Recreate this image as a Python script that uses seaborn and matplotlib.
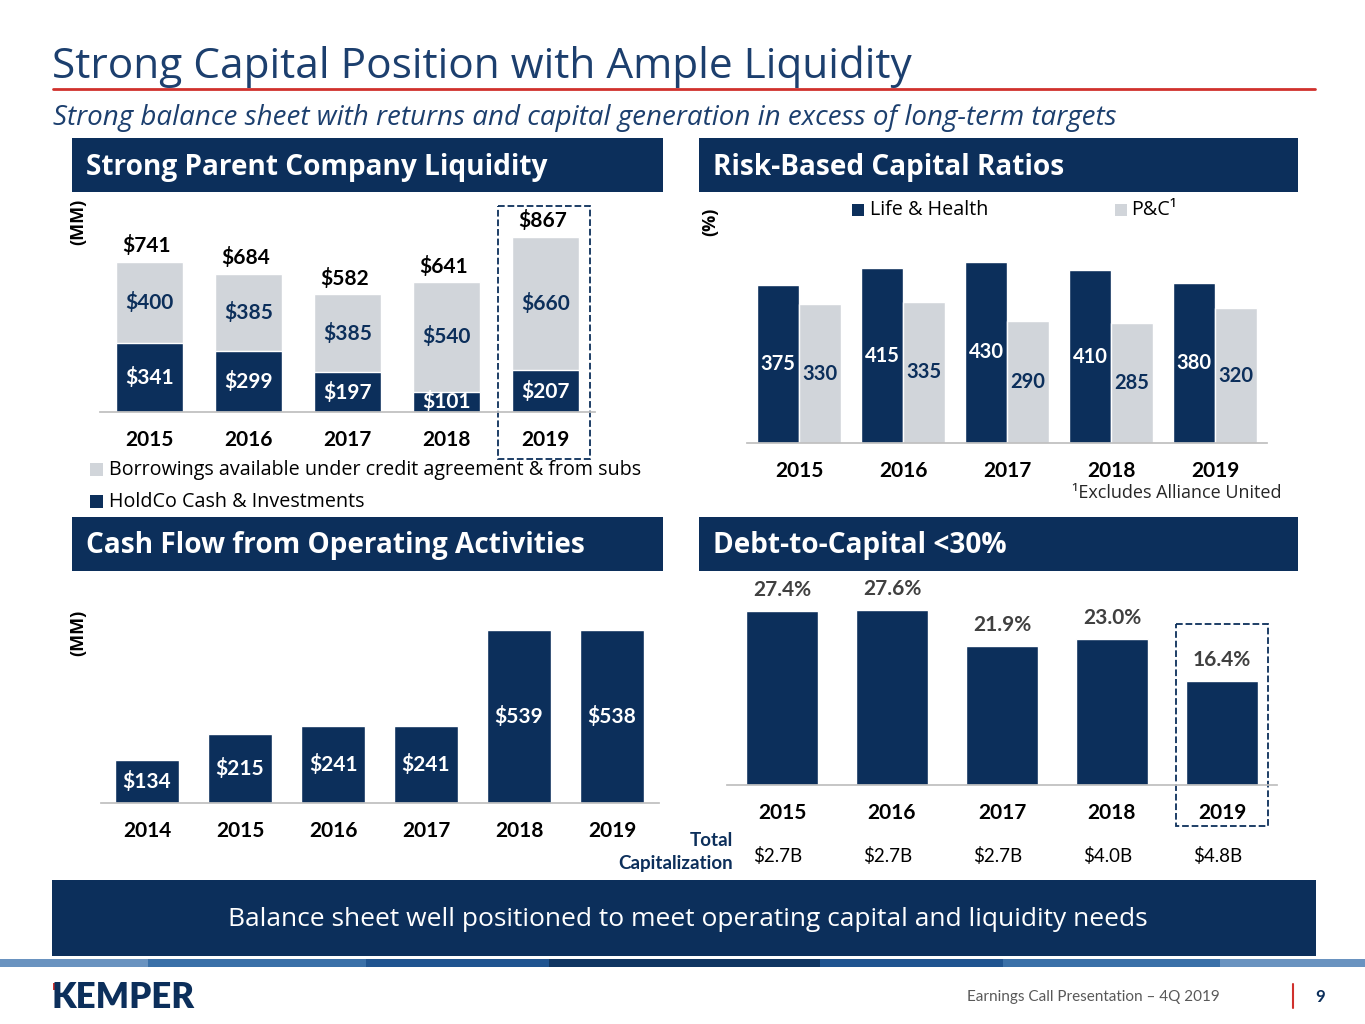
import matplotlib
import matplotlib.pyplot as plt
from matplotlib.patches import Rectangle
import numpy as np
import pandas as pd
import seaborn as sns

sns.set_theme(style="white")
plt.rcParams['font.family'] = ['Lato', 'DejaVu Sans']
OPEN = ['Open Sans', 'DejaVu Sans']

# ---- data ----
liq_years = ['2015', '2016', '2017', '2018', '2019']
holdco_cash = [341, 299, 197, 101, 207]
borrowings = [400, 385, 385, 540, 660]
liq_totals = [741, 684, 582, 641, 867]

rbc_years = ['2015', '2016', '2017', '2018', '2019']
rbc_life = [375, 415, 430, 410, 380]
rbc_pc = [330, 335, 290, 285, 320]

cf_years = ['2014', '2015', '2016', '2017', '2018', '2019']
cf_values = [134, 215, 241, 241, 539, 538]

dtc_years = ['2015', '2016', '2017', '2018', '2019']
dtc_values = [27.4, 27.6, 21.9, 23.0, 16.4]
total_cap = ['$2.7B', '$2.7B', '$2.7B', '$4.0B', '$4.8B']

NAVY = '#0c2f5b'
LIGHT = '#d1d5da'
TITLE = '#1c3f6e'
RED = '#d0312d'
W, H = 1365, 1024

fig = plt.figure(figsize=(13.65, 10.24), dpi=100)

# background / decoration axes in pixel coords
bg = fig.add_axes([0, 0, 1, 1])
bg.set_xlim(0, W)
bg.set_ylim(H, 0)
bg.axis('off')

bg.text(52, 67, 'Strong Capital Position with Ample Liquidity', fontsize=30.5,
        family=OPEN, color=TITLE, va='center', ha='left')
bg.plot([53, 1315], [89, 89], color=RED, lw=2)
bg.text(53, 118, 'Strong balance sheet with returns and capital generation in excess of long-term targets',
        fontsize=20, family=OPEN, style='italic', color=TITLE, va='center', ha='left')

headers = [(72, 138, 591, 'Strong Parent Company Liquidity'),
           (699, 138, 599, 'Risk-Based Capital Ratios'),
           (72, 517, 591, 'Cash Flow from Operating Activities'),
           (699, 517, 599, 'Debt-to-Capital <30%')]
for x0, y0, w, txt in headers:
    bg.add_patch(Rectangle((x0, y0), w, 54, color=NAVY, lw=0))
    bg.text(x0 + 14, y0 + 29, txt, fontsize=20.2, family=OPEN, fontweight='bold',
            color='white', va='center', ha='left')

# bottom banner
bg.add_patch(Rectangle((52, 880), 1264, 76, color=NAVY, lw=0))
bg.text(688, 920, 'Balance sheet well positioned to meet operating capital and liquidity needs',
        fontsize=19, family=OPEN, color='white', va='center', ha='center')

# stripe
stripe = [(0, 148, '#6a93c0'), (148, 366, '#3a70a8'), (366, 549, '#1f5490'),
          (549, 820, '#0f3561'), (820, 1003, '#1f5490'), (1003, 1220, '#3a70a8'),
          (1220, 1365, '#6a93c0')]
for a, b, c in stripe:
    bg.add_patch(Rectangle((a, 959), b - a, 8, color=c, lw=0))

# footer
bg.add_patch(Rectangle((53, 983), 6, 7, color=RED, lw=0))
bg.text(52, 997, 'KEMPER', fontsize=25, fontweight='heavy', color=NAVY,
        va='center', ha='left')
bg.text(1220, 997, 'Earnings Call Presentation \u2013 4Q 2019', fontsize=11,
        color='#595959', va='center', ha='right')
bg.plot([1293, 1293], [984, 1008], color=RED, lw=1.5)
bg.text(1320, 997, '9', fontsize=12, fontweight='bold', color=NAVY,
        va='center', ha='center')


def make_ax(x0, x1, base, top):
    a = fig.add_axes([x0 / W, (H - base) / H, (x1 - x0) / W, (base - top) / H])
    a.set_facecolor('none')
    return a


def style_ax(a, n, ymax):
    a.set_xlim(-0.5, n - 0.5)
    a.set_ylim(0, ymax)
    for s in ['top', 'right', 'left']:
        a.spines[s].set_visible(False)
    a.spines['bottom'].set_color('#bfbfbf')
    a.set_yticks([])
    a.set_xlabel('')
    a.set_ylabel('')
    a.set_xticks(np.arange(-0.5, n), minor=True)
    a.tick_params(axis='x', which='minor', length=7, color='#bfbfbf', direction='out')
    a.tick_params(axis='x', which='major', length=0, pad=13, labelsize=15)
    for lab in a.get_xticklabels():
        lab.set_fontweight('bold')
        lab.set_color('black')


# ---- Parent company liquidity ----
ax1 = make_ax(100, 595, 412, 209.6)
sns.barplot(x=liq_years, y=liq_totals, color=LIGHT, saturation=1, width=0.67, ax=ax1)
sns.barplot(x=liq_years, y=holdco_cash, color=NAVY, saturation=1, width=0.67, ax=ax1)
style_ax(ax1, len(liq_years), 1000)
for i in range(len(liq_years)):
    ax1.annotate(f'${liq_totals[i]}', (i, liq_totals[i]), xytext=(-2, 4),
                 textcoords='offset points', ha='center', va='bottom',
                 fontsize=15, fontweight='bold', color='black')
    ax1.text(i, holdco_cash[i] + borrowings[i] / 2, f'${borrowings[i]}', ha='center',
             va='center', fontsize=15, fontweight='bold', color=NAVY)
    ax1.text(i, holdco_cash[i] / 2, f'${holdco_cash[i]}', ha='center', va='center',
             fontsize=15, fontweight='bold', color='white')
bg.text(78, 222, '(MM)', rotation=90, fontsize=13, family=OPEN, fontweight='bold',
        va='center', ha='center', color='black')
bg.add_patch(Rectangle((498, 206), 92, 253, fill=False, ls='--', lw=1.3, ec=NAVY))
bg.add_patch(Rectangle((90, 463), 13, 13, color=LIGHT, lw=0))
bg.text(109, 470, 'Borrowings available under credit agreement & from subs', fontsize=14.2,
        family=OPEN, va='center', ha='left', color='black')
bg.add_patch(Rectangle((90, 495), 13, 13, color=NAVY, lw=0))
bg.text(109, 502, 'HoldCo Cash & Investments', fontsize=14.2, family=OPEN,
        va='center', ha='left', color='black')

# ---- Risk-based capital ratios ----
rbc_df = pd.DataFrame({
    'Year': rbc_years * 2,
    'Ratio': rbc_life + rbc_pc,
    'Segment': ['Life & Health'] * len(rbc_years) + ['P&C'] * len(rbc_years),
})
ax2 = make_ax(747, 1267, 443, 232.5)
sns.barplot(data=rbc_df, x='Year', y='Ratio', hue='Segment',
            palette={'Life & Health': NAVY, 'P&C': LIGHT}, saturation=1,
            legend=False, ax=ax2)
style_ax(ax2, len(rbc_years), 500)
for cont, col in zip(ax2.containers, ['white', NAVY]):
    ax2.bar_label(cont, label_type='center', fontsize=14.5, fontweight='bold', color=col)
bg.text(710, 222, '(%)', rotation=90, fontsize=13, family=OPEN, fontweight='bold',
        va='center', ha='center', color='black')
bg.add_patch(Rectangle((852, 204), 12, 12, color=NAVY, lw=0))
bg.text(870, 210, 'Life & Health', fontsize=14.2, family=OPEN, va='center', ha='left',
        color='black')
bg.add_patch(Rectangle((1115, 204), 12, 12, color=LIGHT, lw=0))
bg.text(1131, 210, 'P&C\u00b9', fontsize=14.2, family=OPEN, va='center', ha='left',
        color='black')
bg.text(1282, 493, '\u00b9Excludes Alliance United', fontsize=13, family=OPEN,
        va='center', ha='right', color='#262626')

# ---- Cash flow from operating activities ----
ax3 = make_ax(100.5, 658.5, 803, 610.4)
sns.barplot(x=cf_years, y=cf_values, color=NAVY, saturation=1, width=0.68, ax=ax3)
style_ax(ax3, len(cf_years), 600)
ax3.bar_label(ax3.containers[0], labels=[f'${v}' for v in cf_values], label_type='center',
              fontsize=15, fontweight='bold', color='white')
bg.text(78, 633, '(MM)', rotation=90, fontsize=13, family=OPEN, fontweight='bold',
        va='center', ha='center', color='black')

# ---- Debt-to-capital ----
ax4 = make_ax(727, 1277, 785, 594.8)
sns.barplot(x=dtc_years, y=dtc_values, color=NAVY, saturation=1, width=0.66, ax=ax4)
style_ax(ax4, len(dtc_years), 30)
ax4.bar_label(ax4.containers[0], labels=[f'{v:.1f}%' for v in dtc_values], padding=8,
              fontsize=15, fontweight='bold', color='#404040')
bg.add_patch(Rectangle((1176, 624), 92, 202, fill=False, ls='--', lw=1.3, ec=NAVY))
bg.text(733, 840, 'Total', fontsize=13.5, fontweight='bold', color=NAVY, va='center', ha='right')
bg.text(733, 864, 'Capitalization', fontsize=13.5, fontweight='bold', color=NAVY,
        va='center', ha='right')
for i, t in enumerate(total_cap):
    xpix = 727 + (i + 0.5) * 110 - 4
    bg.text(xpix, 856, t, fontsize=13.5, color='black', va='center', ha='center')

fig.savefig('out.png', dpi=100)
